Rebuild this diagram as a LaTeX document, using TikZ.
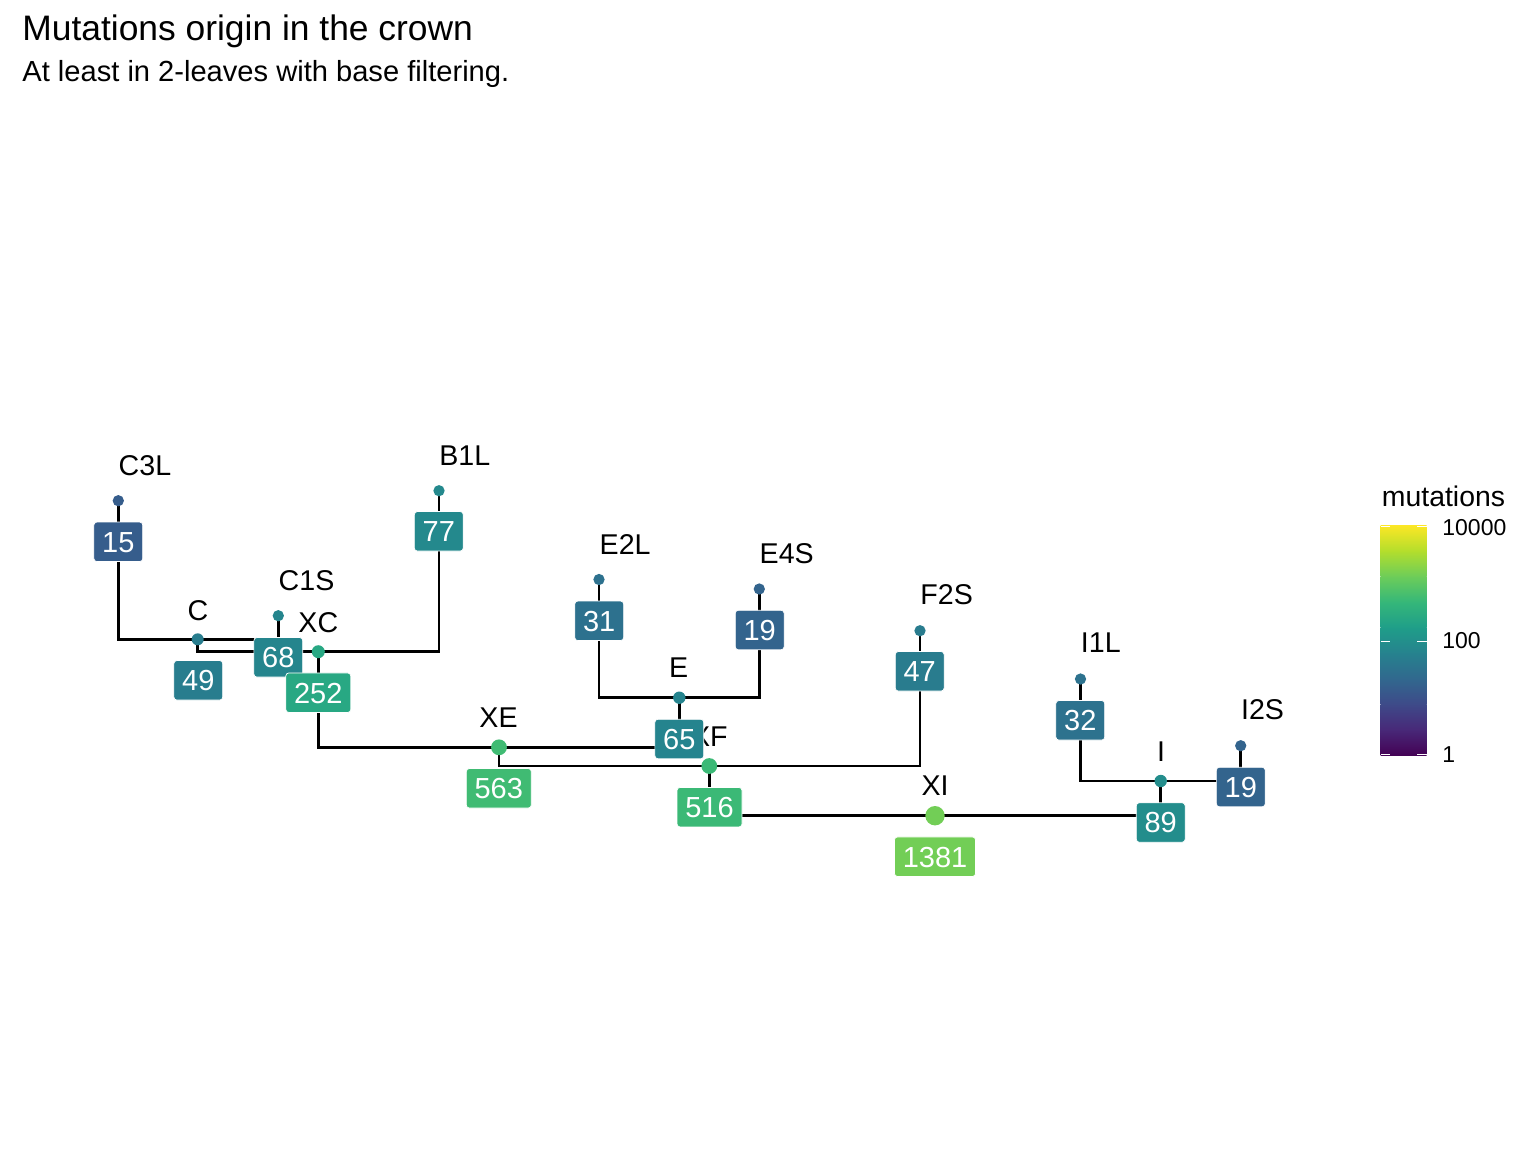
\documentclass[tikz,border=0pt]{standalone}
\usepackage{fontspec}
\setmainfont{Liberation Sans}
\definecolor{n15}{RGB}{54,93,140}
\definecolor{n19}{RGB}{51,100,141}
\definecolor{n31}{RGB}{45,113,142}
\definecolor{n32}{RGB}{45,114,142}
\definecolor{n47}{RGB}{41,124,142}
\definecolor{n49}{RGB}{40,125,142}
\definecolor{n65}{RGB}{37,132,142}
\definecolor{n68}{RGB}{37,133,141}
\definecolor{n77}{RGB}{36,137,141}
\definecolor{n89}{RGB}{35,141,140}
\definecolor{n252}{RGB}{40,168,131}
\definecolor{n516}{RGB}{59,185,118}
\definecolor{n563}{RGB}{64,187,115}
\definecolor{n1381}{RGB}{114,206,86}
\definecolor{v0}{HTML}{440154}
\definecolor{v1}{HTML}{482878}
\definecolor{v2}{HTML}{3E4A89}
\definecolor{v3}{HTML}{31688E}
\definecolor{v4}{HTML}{26828E}
\definecolor{v5}{HTML}{1F9E89}
\definecolor{v6}{HTML}{35B779}
\definecolor{v7}{HTML}{6DCD59}
\definecolor{v8}{HTML}{B4DE2C}
\definecolor{v9}{HTML}{FDE725}
\pgfdeclarelayer{bg}
\pgfsetlayers{bg,main}
\begin{document}
\begin{tikzpicture}[x=0.5pt,y=-0.5pt,
  treeline/.style={line width=1.3pt,black},
  tdot/.style={circle,inner sep=0pt,draw=none,fill=#1},
  nlab/.style={inner sep=0pt,anchor=base,font=\fontsize{14.3}{16}\selectfont},
  leaflab/.style={inner sep=0pt,anchor=base west,font=\fontsize{14.3}{16}\selectfont},
  mbox/.style={fill=#1,draw=white,line width=0.35pt,rounded corners=1.5pt,text=white,
    font=\fontsize{14.5}{16}\selectfont,inner xsep=4.15pt,inner ysep=0pt,
    minimum height=19.75pt,text height=10.4pt,text depth=0pt}]
\useasboundingbox (0,0) rectangle (1536,1152);

% titles
\node[anchor=base west,inner sep=0pt,font=\fontsize{17.7}{21}\selectfont] (title) at (22,40.5) {Mutations origin in the crown};
\node[anchor=base west,inner sep=0pt,font=\fontsize{14.55}{18}\selectfont] (subtitle) at (22,81) {At least in 2-leaves with base filtering.};

% dots
\node[tdot=n15,minimum size=5.65pt] (dC3L) at (118.3,500.7) {};
\node[tdot=n77,minimum size=5.65pt] (dB1L) at (439,490.7) {};
\node[tdot=n68,minimum size=5.65pt] (dC1S) at (278.3,615.7) {};
\node[tdot=n49,minimum size=6pt] (dC) at (197.7,639.3) {};
\node[tdot=n252,minimum size=6.5pt] (dXC) at (318.3,651.7) {};
\node[tdot=n31,minimum size=5.65pt] (dE2L) at (599,579.5) {};
\node[tdot=n19,minimum size=5.65pt] (dE4S) at (759.3,589) {};
\node[tdot=n65,minimum size=6.2pt] (dE) at (679.3,697.7) {};
\node[tdot=n563,minimum size=7.9pt] (dXE) at (499,747.3) {};
\node[tdot=n516,minimum size=7.9pt] (dXF) at (709.3,766) {};
\node[tdot=n47,minimum size=5.65pt] (dF2S) at (920,630.7) {};
\node[tdot=n1381,minimum size=9.7pt] (dXI) at (935,815.7) {};
\node[tdot=n32,minimum size=5.65pt] (dI1L) at (1080.5,679) {};
\node[tdot=n89,minimum size=6.2pt] (dI) at (1160.7,781) {};
\node[tdot=n19,minimum size=5.65pt] (dI2S) at (1240.7,745.7) {};

% background and connectors
\begin{pgfonlayer}{bg}
\fill[white] (0,0) rectangle (1536,1152);
\draw[treeline] (dC3L.center) |- (dC.center);
\draw[treeline] (dC1S.center) |- (dC.center);
\draw[treeline] (dC.center) |- (dXC.center);
\draw[treeline] (dB1L.center) |- (dXC.center);
\draw[treeline] (dXC.center) |- (dXE.center);
\draw[treeline] (dE2L.center) |- (dE.center);
\draw[treeline] (dE4S.center) |- (dE.center);
\draw[treeline] (dE.center) |- (dXE.center);
\draw[treeline] (dXE.center) |- (dXF.center);
\draw[treeline] (dF2S.center) |- (dXF.center);
\draw[treeline] (dXF.center) |- (dXI.center);
\draw[treeline] (dI1L.center) |- (dI.center);
\draw[treeline] (dI2S.center) |- (dI.center);
\draw[treeline] (dI.center) |- (dXI.center);
\end{pgfonlayer}

% labels
\node[leaflab] (lC3L) at (118.3,475) {C3L};
\node[leaflab] (lB1L) at (439,465) {B1L};
\node[leaflab] (lC1S) at (278.3,590) {C1S};
\node[leaflab] (lE2L) at (599.3,554) {E2L};
\node[leaflab] (lE4S) at (759.3,563.3) {E4S};
\node[leaflab] (lF2S) at (920,604) {F2S};
\node[leaflab] (lI1L) at (1080.5,652.3) {I1L};
\node[leaflab] (lI2S) at (1240.7,719) {I2S};
\node[nlab] (lC) at (198,620) {C};
\node[nlab] (lXC) at (318.3,632.7) {XC};
\node[nlab] (lE) at (678.7,677.3) {E};
\node[nlab] (lXE) at (498.5,727.7) {XE};
\node[nlab] (lXF) at (709.3,746.7) {XF};
\node[nlab] (lXI) at (935,795.7) {XI};
\node[nlab] (lI) at (1161,761.7) {I};

% count boxes
\node[mbox=n15] (bC3L) at (118.3,541.8) {15};
\node[mbox=n77] (bB1L) at (438.8,531.3) {77};
\node[mbox=n49] (bC) at (198.3,680.3) {49};
\node[mbox=n68] (bC1S) at (278.3,657.3) {68};
\node[mbox=n252] (bXC) at (318.3,692.7) {252};
\node[mbox=n31] (bE2L) at (599.2,620.8) {31};
\node[mbox=n19] (bE4S) at (759.7,630) {19};
\node[mbox=n65] (bE) at (679.3,739) {65};
\node[mbox=n563] (bXE) at (498.8,788.3) {563};
\node[mbox=n516] (bXF) at (709.5,807.2) {516};
\node[mbox=n47] (bF2S) at (919.7,671.3) {47};
\node[mbox=n32] (bI1L) at (1080.3,720.3) {32};
\node[mbox=n89] (bI) at (1160.7,822.5) {89};
\node[mbox=n19] (bI2S) at (1240.8,787) {19};
\node[mbox=n1381] (bXI) at (935,856.7) {1381};

% legend
\node[anchor=base west,inner sep=0pt,font=\fontsize{14.2}{16}\selectfont] (legtitle) at (1381.5,506.7) {mutations};
\foreach \k/\ca/\cb in {0/v0/v1,1/v1/v2,2/v2/v3,3/v3/v4,4/v4/v5,5/v5/v6,6/v6/v7,7/v7/v8,8/v8/v9}{
  \shade[bottom color=\ca,top color=\cb] (1380.7,{755.3-\k*25.59+0.5}) rectangle (1426.7,{755.3-(\k+1)*25.59});
}
\foreach \yy in {526.7,641,754.3}{
  \draw[white,line width=0.5pt] (1380.7,\yy) -- (1390,\yy);
  \draw[white,line width=0.5pt] (1417.4,\yy) -- (1426.7,\yy);
}
\node[anchor=west,inner sep=0pt,font=\fontsize{11.5}{13}\selectfont] (t3) at (1442,527.5) {10000};
\node[anchor=west,inner sep=0pt,font=\fontsize{11.5}{13}\selectfont] (t2) at (1442,641) {100};
\node[anchor=west,inner sep=0pt,font=\fontsize{11.5}{13}\selectfont] (t1) at (1442,755) {1};
\end{tikzpicture}
\end{document}
